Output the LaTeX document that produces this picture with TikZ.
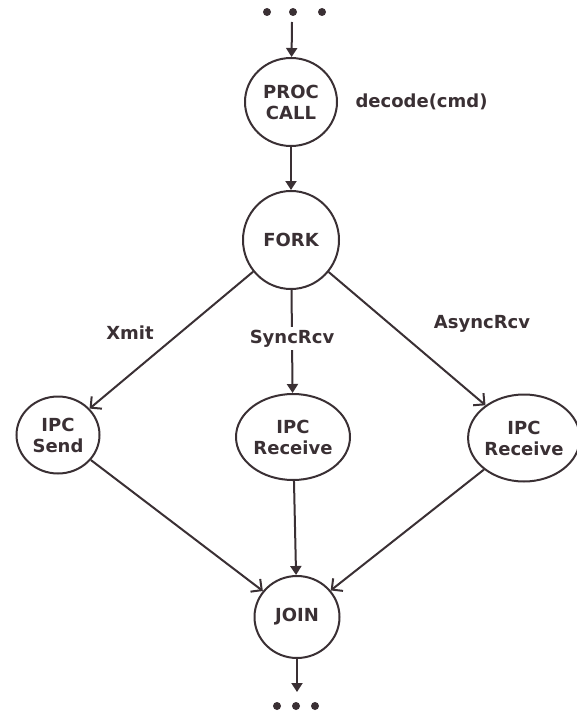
\documentclass[tikz,border=0pt]{standalone}
\usepackage{fontspec}
\setmainfont{DejaVu Sans}
\usetikzlibrary{arrows.meta,shapes.geometric}
\definecolor{ink}{RGB}{58,48,52}
\begin{document}
\begin{tikzpicture}[x=1pt,y=-1pt,
  every node/.style={font=\bfseries\fontsize{18}{21}\selectfont, text=ink},
  state/.style={draw=ink, line width=2pt, ellipse, inner sep=0pt, align=center},
  lbl/.style={fill=white, inner sep=3pt},
  flow/.style={draw=ink, line width=2pt, -{Triangle[length=9pt,width=11pt]}},
  slant/.style={draw=ink, line width=2pt, -{Straight Barb[length=8pt,width=16pt]}},
  dot/.style={circle, fill=ink, inner sep=0pt, minimum size=8pt}]
\useasboundingbox (0,0) rectangle (577,717);
% top dots
\node[dot] (t1) at (267,12) {};
\node[dot] (t2) at (293,12) {};
\node[dot] (t3) at (322,12) {};
\coordinate (tin) at (292,22);
% nodes
\node[state, minimum width=92pt, minimum height=88pt] (proc) at (291,102) {PROC\\CALL};
\node[anchor=west] (dec) at (352,102) {decode(cmd)};
\node[state, minimum width=96pt, minimum height=98pt] (fork) at (291,240) {FORK};
\node[state, minimum width=83pt, minimum height=77pt] (send) at (58,435) {IPC\\Send};
\node[state, minimum width=114pt, minimum height=86pt] (rcv1) at (293,437) {IPC\\Receive};
\node[state, minimum width=106pt, minimum height=87pt] (rcv2) at (524,438) {IPC\\Receive};
\node[state, minimum width=85pt, minimum height=82pt] (join) at (297,617) {JOIN};
% bottom dots
\coordinate (bout) at (297,692);
\node[dot] (b1) at (277,706) {};
\node[dot] (b2) at (296,706) {};
\node[dot] (b3) at (315,706) {};
% labels
\node (x) at (130,333) {Xmit};
\node (a) at (482,324) {AsyncRcv};
% edges
\draw[flow] (tin) -- (proc);
\draw[flow] (proc) -- (fork);
\draw[slant] (fork) -- (send);
\draw[flow] (fork) -- (rcv1) node[pos=0.47, lbl] (s) {SyncRcv};
\draw[slant] (fork) -- (rcv2);
\draw[slant] (send) -- (join);
\draw[flow] (rcv1) -- (join);
\draw[slant] (rcv2) -- (join);
\draw[flow] (join) -- (bout);
\end{tikzpicture}
\end{document}
